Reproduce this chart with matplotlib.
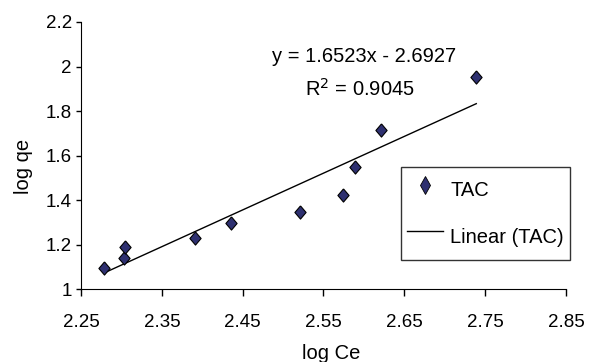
import numpy as np
import matplotlib
matplotlib.use("Agg")
import matplotlib.pyplot as plt
from matplotlib.lines import Line2D

plt.rcParams['font.family'] = ['Liberation Sans', 'DejaVu Sans']

# dane
log_ce = [2.279, 2.303, 2.305, 2.391, 2.435, 2.521, 2.574, 2.589, 2.621, 2.739]
log_qe = [1.096, 1.141, 1.191, 1.229, 1.295, 1.344, 1.423, 1.547, 1.713, 1.953]
x_ticks = [2.25, 2.35, 2.45, 2.55, 2.65, 2.75, 2.85]
y_ticks = [1, 1.2, 1.4, 1.6, 1.8, 2, 2.2]
y_tick_labels = ["1", "1.2", "1.4", "1.6", "1.8", "2", "2.2"]
slope = 1.6523
intercept = -2.6927
eq_text = "y = 1.6523x - 2.6927"
r2_text = "R$^2$ = 0.9045"

fig = plt.figure(figsize=(5.91, 3.62), dpi=100)
ax = fig.add_axes([81 / 591, 1 - 289 / 362, 485 / 591, 267 / 362])

# romb troche wyzszy niz szeroki, jak w Excelu
diamond = [(0, 1), (0.85, 0), (0, -1), (-0.85, 0), (0, 1)]
navy = '#2e3070'
ax.plot(log_ce, log_qe, linestyle='none', marker=diamond, markersize=9.5,
        markerfacecolor=navy, markeredgecolor='black', markeredgewidth=0.8,
        zorder=3)

# linia trendu z rownania
xl = np.array([min(log_ce), max(log_ce)])
ax.plot(xl, slope * xl + intercept, color='black', linewidth=1.0)

ax.set_xlim(2.25, 2.85)
ax.set_ylim(1, 2.2)
ax.set_xticks(x_ticks)
ax.set_xticklabels([f"{t:.2f}" for t in x_ticks])
ax.set_yticks(y_ticks)
ax.set_yticklabels(y_tick_labels)
ax.tick_params(direction='out', width=1, labelsize=13.5, colors='black')
ax.tick_params(axis='x', length=5, pad=13)
ax.tick_params(axis='y', length=3.5, pad=3)
ax.spines['top'].set_visible(False)
ax.spines['right'].set_visible(False)
ax.set_xlabel("log Ce", fontsize=14.5)
ax.set_ylabel("log qe", fontsize=14.5)
ax.xaxis.set_label_coords(0.515, -0.205)
ax.yaxis.set_label_coords(-0.099, 0.46)

ax.text(0.394, 0.872, eq_text, fontsize=14.5, ha='left', va='center', transform=ax.transAxes)
ax.text(0.462, 0.748, r2_text, fontsize=14.5, ha='left', va='center', transform=ax.transAxes)

handles = [
    Line2D([], [], linestyle='none', marker='d', markersize=9,
           markerfacecolor=navy, markeredgecolor='black', markeredgewidth=0.6),
    Line2D([], [], color='black', linewidth=1.0),
]
leg = fig.legend(handles, ['TAC', 'Linear (TAC)'], loc='upper left',
                 bbox_to_anchor=(401 / 591, 1 - 167 / 362), borderaxespad=0,
                 fontsize=14.5, frameon=True, fancybox=False, edgecolor='black',
                 handlelength=1.8, handletextpad=0.35, handleheight=2.2,
                 labelspacing=0.65, borderpad=0.3)
leg.get_frame().set_linewidth(1.0)

fig.savefig("out.png", dpi=100)
